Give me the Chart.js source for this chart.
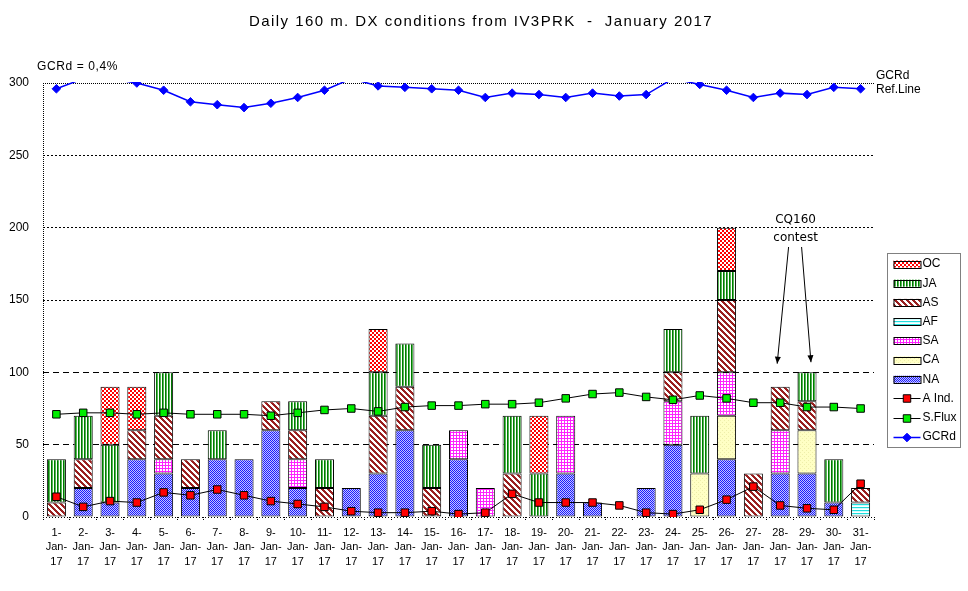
<!DOCTYPE html>
<html><head><meta charset="utf-8">
<script src="https://cdn.jsdelivr.net/npm/chart.js@4/dist/chart.umd.min.js"></script>
<style>html,body{margin:0;padding:0;background:#fff}#wrap{width:968px;height:591px}</style>
</head><body><div id="wrap"><canvas id="c" width="968" height="591"></canvas></div>
<script>
const categories = ['1-Jan-17','2-Jan-17','3-Jan-17','4-Jan-17','5-Jan-17','6-Jan-17','7-Jan-17','8-Jan-17','9-Jan-17','10-Jan-17','11-Jan-17','12-Jan-17','13-Jan-17','14-Jan-17','15-Jan-17','16-Jan-17','17-Jan-17','18-Jan-17','19-Jan-17','20-Jan-17','21-Jan-17','22-Jan-17','23-Jan-17','24-Jan-17','25-Jan-17','26-Jan-17','27-Jan-17','28-Jan-17','29-Jan-17','30-Jan-17','31-Jan-17'];
const NA = [0,20,10,40,30,20,40,40,60,20,0,20,30,60,0,40,0,0,0,30,10,0,20,50,0,40,0,30,30,10,0];
const CA = [0,0,0,0,0,0,0,0,0,0,0,0,0,0,0,0,0,0,0,0,0,0,0,0,30,30,0,0,30,0,0];
const SA = [0,0,0,0,10,0,0,0,0,20,0,0,0,0,0,20,20,0,0,40,0,0,0,30,0,30,0,30,0,0,0];
const AF = [0,0,0,0,0,0,0,0,0,0,0,0,0,0,0,0,0,0,0,0,0,0,0,0,0,0,0,0,0,0,10];
const AS = [10,20,0,20,30,20,0,0,20,20,20,0,40,30,20,0,0,30,0,0,0,0,0,20,0,50,30,30,20,0,10];
const JA = [30,30,40,0,30,0,20,0,0,20,20,0,30,30,30,0,0,40,30,0,0,0,0,30,40,20,0,0,20,30,0];
const OC = [0,0,40,30,0,0,0,0,0,0,0,0,30,0,0,0,0,0,40,0,0,0,0,0,0,30,0,0,0,0,0];
const AInd = [14,7,11,10,17,15,19,15,11,9,7,4,3,3,4,2,3,16,10,10,10,8,3,2,5,12,21,8,6,5,23];
const SFlux = [71,72,72,71,72,71,71,71,70,72,74,75,73,76,77,77,78,78,79,82,85,86,83,81,84,82,79,79,76,76,75];
const GCRd = [296,303,303,300,295,287,285,283,286,290,295,303,298,297,296,295,290,293,292,290,293,291,292,303,299,295,290,293,292,297,296];
const yTicks = [0,50,100,150,200,250,300];
const titleText = 'Daily 160 m. DX conditions from IV3PRK  -  January 2017';

const FONT = "'Liberation Sans', Arial, sans-serif";

function makePattern(w,h,fn){const c=document.createElement('canvas');c.width=w;c.height=h;const g=c.getContext('2d');fn(g);return g.createPattern(c,'repeat');}
const patNA = makePattern(2,2,g=>{g.fillStyle='#c4c4ff';g.fillRect(0,0,2,2);g.fillStyle='#1c1cff';g.fillRect(0,0,1,1);g.fillRect(1,1,1,1);});
const patCA = makePattern(4,4,g=>{g.fillStyle='#ffffc4';g.fillRect(0,0,4,4);g.fillStyle='#eeeeaa';g.fillRect(0,0,1,1);g.fillRect(2,2,1,1);});
const patSA = makePattern(3,3,g=>{g.fillStyle='#ffffff';g.fillRect(0,0,3,3);g.fillStyle='#ff22ff';g.fillRect(0,0,3,1);g.fillRect(0,0,1,3);});
const patAF = makePattern(4,3,g=>{g.fillStyle='#ffffff';g.fillRect(0,0,4,3);g.fillStyle='#22dddd';g.fillRect(0,0,4,1);g.fillStyle='#ccffff';g.fillRect(0,1,4,1);});
const patAS = makePattern(6,6,g=>{for(let x=0;x<6;x++)for(let y=0;y<6;y++){g.fillStyle=(((x-y)%6+6)%6<3)?'#9a2020':'#ffffff';g.fillRect(x,y,1,1);}});
const patJA = makePattern(3,1,g=>{g.fillStyle='#007a00';g.fillRect(0,0,1,1);g.fillStyle='#55b855';g.fillRect(1,0,1,1);g.fillStyle='#ffffff';g.fillRect(2,0,1,1);});
const patOC = makePattern(4,4,g=>{g.fillStyle='#ff0000';g.fillRect(0,0,4,4);g.fillStyle='#ffffff';g.fillRect(2,0,2,2);g.fillRect(0,2,2,2);});

function barDs(label,data,pat){
  return {type:'bar',label,data:data.map(v=>v||null),backgroundColor:pat,borderColor:'#000',borderWidth:1,borderSkipped:false,order:1,stack:'bars',barPercentage:0.71,categoryPercentage:1};
}
const datasets = [
  barDs('NA',NA,patNA), barDs('CA',CA,patCA), barDs('SA',SA,patSA), barDs('AF',AF,patAF),
  barDs('AS',AS,patAS), barDs('JA',JA,patJA), barDs('OC',OC,patOC),
  {type:'line',label:'A Ind.',data:AInd,borderColor:'#000',borderWidth:1,pointStyle:'rect',pointRadius:5.3,pointBackgroundColor:'#ff0000',pointBorderColor:'#000',pointBorderWidth:1,stack:'l1',order:0,tension:0},
  {type:'line',label:'S.Flux',data:SFlux,borderColor:'#000',borderWidth:1,pointStyle:'rect',pointRadius:5.3,pointBackgroundColor:'#00ee00',pointBorderColor:'#000',pointBorderWidth:1,stack:'l2',order:0,tension:0},
  {type:'line',label:'GCRd',data:GCRd,borderColor:'#0000ff',borderWidth:1.5,pointStyle:'rectRot',pointRadius:c=>c.raw>300?0:4.3,pointBackgroundColor:'#0000ff',pointBorderColor:'#0000ff',pointBorderWidth:1,stack:'l3',order:0,tension:0,clip:{left:6,right:6,top:1,bottom:6}}
];
const legendOrder = ['OC','JA','AS','AF','SA','CA','NA','A Ind.','S.Flux','GCRd'];

function arrow(ctx,x1,y1,x2,y2){
  ctx.beginPath();ctx.moveTo(x1,y1);ctx.lineTo(x2,y2);ctx.stroke();
  const a=Math.atan2(y2-y1,x2-x1),L=7,W=3;
  ctx.beginPath();ctx.moveTo(x2,y2);
  ctx.lineTo(x2-L*Math.cos(a)+W*Math.sin(a),y2-L*Math.sin(a)-W*Math.cos(a));
  ctx.lineTo(x2-L*Math.cos(a)-W*Math.sin(a),y2-L*Math.sin(a)+W*Math.cos(a));
  ctx.closePath();ctx.fill();
}

const deco = {
  id:'deco',
  afterDraw(chart){
    const {ctx, chartArea:ca, scales:{x,y}} = chart;
    ctx.save();
    ctx.fillStyle='#000';ctx.textBaseline='middle';
    ctx.font=`15px ${FONT}`;ctx.textAlign='center';
    ctx.letterSpacing='1.45px';
    ctx.fillText(titleText,481,22);
    ctx.letterSpacing='0.6px';
    ctx.font=`12px ${FONT}`;ctx.textAlign='left';
    ctx.fillText('GCRd = 0,4%',37,67);
    ctx.letterSpacing='0px';
    ctx.fillText('GCRd',ca.right+2,76);
    ctx.fillText('Ref.Line',ca.right+2,90);
    // left axis (dotted)
    ctx.strokeStyle='#000';ctx.lineWidth=1;ctx.setLineDash([1,1]);
    ctx.beginPath();ctx.moveTo(ca.left+0.5,ca.top);ctx.lineTo(ca.left+0.5,ca.bottom+3);ctx.stroke();
    ctx.setLineDash([]);
    // CQ160 annotation
    const x28=x.getPixelForValue(27), x29=x.getPixelForValue(28), xm=(x28+x29)/2;
    ctx.font=`12px 'DejaVu Sans', ${FONT}`;ctx.textAlign='center';
    ctx.fillText('CQ160',xm+2,220);
    ctx.fillText('contest',xm+2,238);
    ctx.lineWidth=1;
    arrow(ctx,xm-5,247,x28-3,y.getPixelForValue(106));
    arrow(ctx,xm+8,247,x29+4,y.getPixelForValue(107));
    // legend
    const lx=ca.right+13.5, ly=253.5, lw=73, lh=194;
    ctx.setLineDash([1,1]);ctx.strokeRect(lx,ly,lw,lh);ctx.setLineDash([]);
    ctx.font=`12px ${FONT}`;ctx.textAlign='left';
    legendOrder.forEach((lab,i)=>{
      const ds=chart.data.datasets.find(d=>d.label===lab);
      const yy=264+i*19.2, sx=lx+6, sw=27;
      if(ds.type==='bar'){
        ctx.fillStyle=ds.backgroundColor;ctx.fillRect(sx,yy-3.5,sw,7);
        ctx.strokeStyle='#000';ctx.strokeRect(sx+0.5,Math.round(yy-3.5)+0.5,sw,7);
      } else {
        ctx.strokeStyle=ds.borderColor;ctx.lineWidth=ds.borderWidth;
        ctx.beginPath();ctx.moveTo(sx,Math.round(yy)+0.5);ctx.lineTo(sx+sw,Math.round(yy)+0.5);ctx.stroke();
        ctx.lineWidth=1;
        ctx.fillStyle=ds.pointBackgroundColor;ctx.strokeStyle=ds.pointBorderColor;
        Chart.helpers.drawPoint(ctx,{pointStyle:ds.pointStyle,rotation:0,radius:ds.label==='GCRd'?4.3:5.3,borderWidth:1},sx+sw/2,Math.round(yy)+0.5);
      }
      ctx.fillStyle='#000';
      ctx.fillText(lab,sx+sw+2,yy);
    });
    ctx.restore();
  }
};

new Chart(document.getElementById('c'),{
  data:{labels:categories,datasets},
  options:{
    responsive:false,animation:false,
    layout:{padding:{top:83,right:94,left:0,bottom:0}},
    plugins:{legend:{display:false},tooltip:{enabled:false}},
    scales:{
      x:{stacked:true,offset:true,
        grid:{display:true,drawOnChartArea:false,drawTicks:true,tickLength:3,color:'#000',tickBorderDash:[1,1]},
        border:{display:false},
        ticks:{font:{family:FONT,size:11,lineHeight:1.3},color:'#000',maxRotation:0,autoSkip:false,padding:6,
          callback:(v,i)=>categories[i].split(/(?<=-)/)},
        afterFit:s=>{s.height=74;}
      },
      y:{stacked:true,min:0,max:300,
        afterBuildTicks:s=>{s.ticks=yTicks.map(v=>({value:v}));},
        ticks:{font:{family:FONT,size:12},color:'#000',padding:14},
        grid:{color:'#000',lineWidth:1,drawTicks:false},
        border:{display:false,dash:c=>{if(!c.tick)return[];const v=c.tick.value;if(v===0)return[1,2];if(v<=100)return[6,4];if(v===300)return[1,1];return[2,2];}},
        afterFit:s=>{s.width=43;}
      }
    }
  },
  plugins:[deco]
});
</script></body></html>
